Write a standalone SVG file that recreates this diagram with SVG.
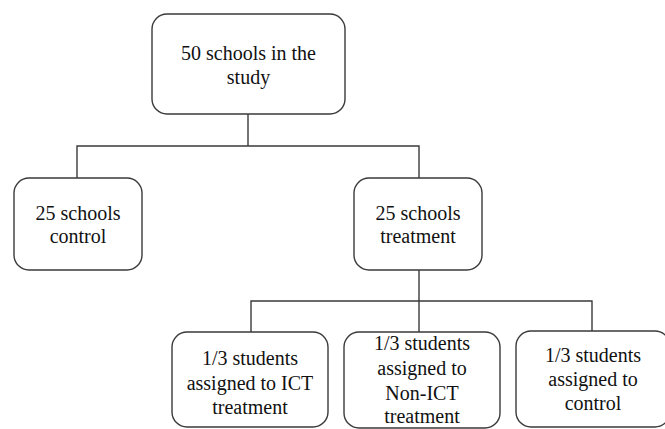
<svg xmlns="http://www.w3.org/2000/svg" width="665" height="429" viewBox="0 0 665 429">
<style>
.box{fill:#fff;stroke:#3a3a3a;stroke-width:1.4}
.ln{fill:none;stroke:#3a3a3a;stroke-width:1.4}
</style>
<rect width="665" height="429" fill="#fff"/>
<g id="connectors">
<path class="ln" d="M248 114V146M77 178V146H419V178"/>
<path class="ln" d="M419 270V301M251 332V301H592V331M419 301V332"/>
</g>
<g font-family="Liberation Serif, DejaVu Serif, serif" font-size="20" fill="#111" text-anchor="middle">
<g id="n-top">
<rect class="box" x="152" y="14" width="193" height="100" rx="15"/>
<text x="248.5" y="60">50 schools in the</text>
<text x="248.5" y="84">study</text>
</g>
<g id="n-control">
<rect class="box" x="14" y="178" width="128" height="92" rx="15"/>
<text x="78" y="220">25 schools</text>
<text x="78" y="243">control</text>
</g>
<g id="n-treatment">
<rect class="box" x="354" y="178" width="128" height="92" rx="15"/>
<text x="418" y="220">25 schools</text>
<text x="418" y="243">treatment</text>
</g>
<g id="n-ict">
<rect class="box" x="172" y="332" width="156" height="95" rx="15"/>
<text x="250" y="365">1/3 students</text>
<text x="250" y="390">assigned to ICT</text>
<text x="250" y="414">treatment</text>
</g>
<g id="n-nonict">
<rect class="box" x="344" y="332" width="156" height="96" rx="15"/>
<text x="422" y="350">1/3 students</text>
<text x="422" y="375">assigned to</text>
<text x="422" y="400">Non-ICT</text>
<text x="422" y="423">treatment</text>
</g>
<g id="n-studctrl">
<rect class="box" x="516" y="331" width="154" height="96" rx="15"/>
<text x="593" y="362">1/3 students</text>
<text x="593" y="386">assigned to</text>
<text x="593" y="410">control</text>
</g>
</g>
</svg>
